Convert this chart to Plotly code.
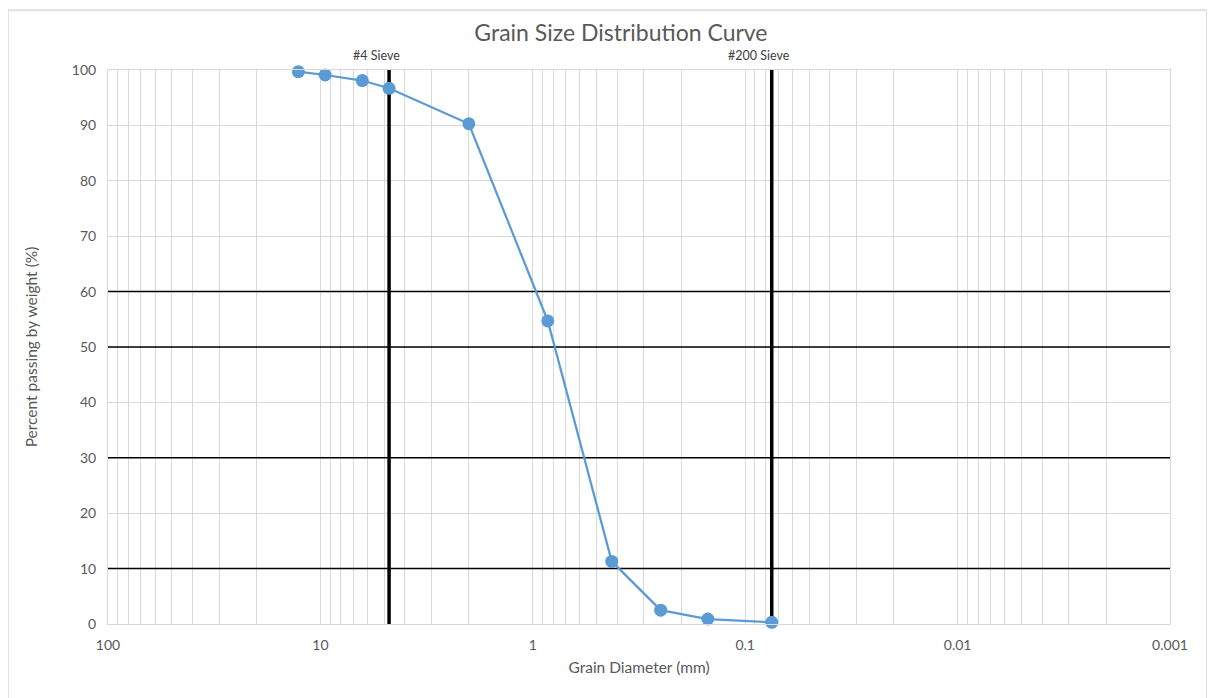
import math
import plotly.graph_objects as go

# ── data ──────────────────────────────────────────
grain_mm = [12.7, 9.5, 6.35, 4.75, 2.0, 0.85, 0.425, 0.25, 0.15, 0.075]
pct_passing = [99.7, 99.1, 98.1, 96.7, 90.3, 54.7, 11.3, 2.5, 0.9, 0.3]

sieve_sizes = [4.75, 0.075]
sieve_labels = ['#4 Sieve', '#200 Sieve']
ref_levels = [10, 30, 50, 60]

x_tickvals = [100, 10, 1, 0.1, 0.01, 0.001]
x_ticktext = ['100', '10', '1', '0.1', '0.01', '0.001']
y_tickvals = [0, 10, 20, 30, 40, 50, 60, 70, 80, 90, 100]

FONT = 'Lato, Open Sans, sans-serif'
GREY = '#595959'
GRID = '#d9d9d9'
X_MIN, X_MAX = x_tickvals[-1], x_tickvals[0]

fig = go.Figure()

# horizontal reference lines (drawn as traces: over the grid, under the data)
for lv in ref_levels:
    fig.add_trace(go.Scatter(x=[X_MAX, X_MIN], y=[lv, lv], mode='lines',
                             line=dict(color='black', width=1.5),
                             hoverinfo='skip', showlegend=False))

# sieve lines + labels
for s, lab in zip(sieve_sizes, sieve_labels):
    fig.add_trace(go.Scatter(x=[s, s], y=[0, 100], mode='lines',
                             line=dict(color='black', width=3.5),
                             hoverinfo='skip', showlegend=False))
    fig.add_annotation(x=math.log10(s), xref='x', y=1.0, yref='paper', text=lab,
                       showarrow=False, yanchor='bottom', yshift=5, xshift=-13,
                       font=dict(family=FONT, size=12.5, color='#404040'))

fig.add_trace(go.Scatter(
    x=grain_mm, y=pct_passing, mode='lines+markers',
    line=dict(color='#5b9bd5', width=2.25),
    marker=dict(color='#5b9bd5', size=13),
    cliponaxis=False, showlegend=False,
))

# chart area border
fig.add_shape(type='rect', xref='paper', yref='paper',
              x0=-0.0942, x1=1.0348, y0=-0.3, y1=1.108,
              line=dict(color='#e0e0e0', width=2))

fig.update_xaxes(
    type='log', range=[2, -3], autorange=False,
    tickvals=x_tickvals, ticktext=x_ticktext,
    showgrid=True, gridcolor=GRID, gridwidth=1,
    minor=dict(dtick='D1', showgrid=True, gridcolor=GRID, gridwidth=1, ticks=''),
    showline=True, linecolor=GRID, mirror=True,
    ticks='', ticklabelstandoff=8,
    tickfont=dict(family=FONT, size=14, color=GREY),
    title=dict(text='Grain Diameter (mm)', standoff=10,
               font=dict(family=FONT, size=15.5, color=GREY)),
    zeroline=False,
)
fig.update_yaxes(
    range=[0, 100], tickvals=y_tickvals,
    showgrid=True, gridcolor=GRID, gridwidth=1,
    showline=True, linecolor=GRID, mirror=True,
    ticks='', ticklabelstandoff=8,
    tickfont=dict(family=FONT, size=14, color=GREY),
    title=dict(text='Percent passing by weight (%)', standoff=30,
               font=dict(family=FONT, size=15.5, color=GREY)),
    zeroline=False,
)

fig.update_layout(
    width=1215, height=698,
    margin=dict(l=100, r=53, t=62, b=82),
    paper_bgcolor='white', plot_bgcolor='white',
    title=dict(text='Grain Size Distribution Curve', xref='paper', x=0.483,
               xanchor='center', y=0.964, yanchor='middle',
               font=dict(family=FONT, size=23, color=GREY)),
)

fig.write_html('out.html')
